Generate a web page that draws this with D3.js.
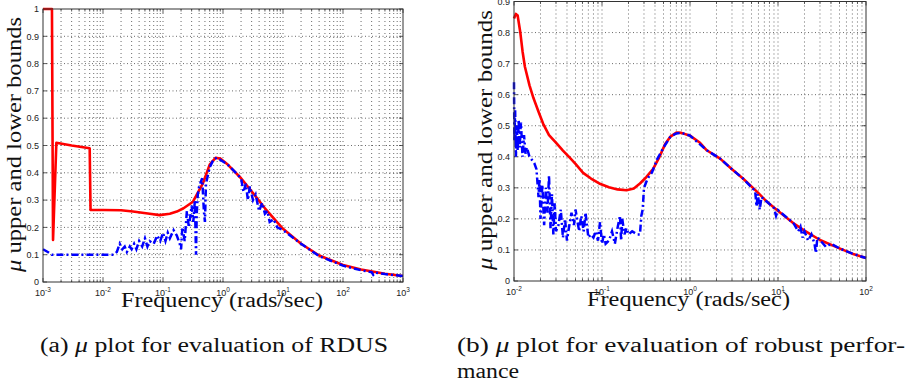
<!DOCTYPE html>
<html>
<head>
<meta charset="utf-8">
<script src="https://cdn.jsdelivr.net/npm/d3@7/dist/d3.min.js"></script>
<style>
  body { margin: 0; background: #fff; }
  svg { display: block; }
  .serif { font-family: "Liberation Serif", "Times New Roman", serif; }
  .sans { font-family: "Liberation Sans", Arial, sans-serif; }
</style>
</head>
<body>
<svg id="chart" width="911" height="384"></svg>
<script>
// ---- Panel (a): mu bounds for RDUS evaluation ----
const aUpperFreq = [0.001, 0.00141, 0.00147, 0.00167, 0.003, 0.006, 0.0062, 0.01, 0.02, 0.0316,
    0.06, 0.088, 0.13, 0.17, 0.22, 0.316, 0.46, 0.6, 0.75, 0.9, 1.2, 2, 3.16, 5, 10, 20, 40, 100, 200, 500, 1000];
const aUpperMu = [1.0, 1.0, 0.154, 0.51, 0.50, 0.49, 0.264, 0.264, 0.263, 0.258,
    0.25, 0.245, 0.25, 0.258, 0.27, 0.294, 0.36, 0.43, 0.455, 0.452, 0.43, 0.38, 0.326, 0.27, 0.195, 0.14, 0.097, 0.062, 0.046, 0.03, 0.022];

const aLowerFreq = [0.001, 0.0012, 0.0014, 0.003, 0.006, 0.01, 0.015, 0.017, 0.019, 0.021, 0.023, 0.025,
    0.028, 0.03, 0.033, 0.036, 0.04, 0.045, 0.05, 0.055, 0.06, 0.07, 0.08, 0.09, 0.1, 0.11, 0.12, 0.13,
    0.15, 0.17, 0.19, 0.2, 0.21, 0.23, 0.25, 0.27, 0.3, 0.32, 0.34, 0.355, 0.365, 0.38, 0.4, 0.45, 0.48,
    0.5, 0.52, 0.6, 0.7, 0.8, 1.2, 2, 2.2, 2.4, 2.6, 2.8, 3.16, 3.5, 4, 4.5, 5, 5.5, 6, 7, 8, 10, 20, 40,
    100, 200, 300, 320, 350, 500, 1000];
const aLowerMu = [0.12, 0.11, 0.10, 0.10, 0.10, 0.10, 0.10, 0.11, 0.14, 0.12, 0.13, 0.11,
    0.13, 0.12, 0.14, 0.12, 0.15, 0.13, 0.16, 0.13, 0.15, 0.14, 0.17, 0.15, 0.18, 0.15, 0.18, 0.16,
    0.19, 0.17, 0.14, 0.12, 0.2, 0.15, 0.26, 0.2, 0.28, 0.22, 0.3, 0.1, 0.25, 0.32, 0.35, 0.38, 0.26,
    0.22, 0.36, 0.42, 0.45, 0.455, 0.43, 0.38, 0.33, 0.36, 0.3, 0.35, 0.3, 0.32, 0.26, 0.29, 0.25, 0.26, 0.22, 0.23, 0.2, 0.19, 0.14, 0.095,
    0.06, 0.043, 0.036, 0.026, 0.034, 0.029, 0.022];

// ---- Panel (b): mu bounds for robust performance ----
const bUpperFreq = [0.0100, 0.0105, 0.011, 0.0118, 0.0125, 0.0133, 0.015, 0.0166, 0.019, 0.0214, 0.025,
    0.0305, 0.036, 0.043, 0.05, 0.061, 0.075, 0.093, 0.12, 0.15, 0.19, 0.23, 0.27, 0.32, 0.38, 0.45,
    0.52, 0.6, 0.7, 0.8, 1.0, 1.3, 1.55, 2.2, 3, 4, 5.8, 7.5, 9.8, 15, 20, 30, 50, 70, 100];
const bUpperMu = [0.845, 0.86, 0.855, 0.80, 0.74, 0.69, 0.63, 0.59, 0.545, 0.507, 0.47,
    0.443, 0.42, 0.397, 0.377, 0.348, 0.33, 0.314, 0.302, 0.295, 0.292, 0.298, 0.314, 0.335, 0.36, 0.40,
    0.44, 0.465, 0.478, 0.477, 0.468, 0.445, 0.421, 0.394, 0.36, 0.33, 0.287, 0.255, 0.228, 0.186, 0.162, 0.132, 0.105, 0.088, 0.074];

const bLowerFreq = [0.0100, 0.0101, 0.0103, 0.0105, 0.0108, 0.011, 0.0113, 0.0116, 0.012, 0.0125, 0.013,
    0.0135, 0.014, 0.015, 0.016, 0.017, 0.018, 0.019, 0.0195, 0.020, 0.021, 0.022, 0.023, 0.024, 0.025,
    0.026, 0.027, 0.028, 0.029, 0.030, 0.032, 0.034, 0.036, 0.038, 0.040, 0.042, 0.045, 0.048, 0.050,
    0.055, 0.058, 0.062, 0.065, 0.070, 0.075, 0.08, 0.085, 0.09, 0.095, 0.10, 0.105, 0.11, 0.12, 0.13,
    0.14, 0.15, 0.16, 0.165, 0.17, 0.18, 0.19, 0.20, 0.22, 0.25, 0.27, 0.28, 0.29, 0.30, 0.33, 0.37, 0.42,
    0.5, 0.6, 0.7, 0.8, 1.0, 1.55, 2.2, 3, 4, 5.5, 5.7, 5.9, 6.2, 6.5, 7.5, 9, 9.5, 10, 15, 17, 18, 19,
    20, 22, 24, 26, 27, 28, 30, 35, 40, 50, 70, 100];
const bLowerMu = [0.64, 0.45, 0.55, 0.40, 0.50, 0.42, 0.52, 0.43, 0.51, 0.40, 0.47,
    0.41, 0.43, 0.40, 0.39, 0.38, 0.36, 0.27, 0.33, 0.20, 0.31, 0.18, 0.30, 0.22, 0.34,
    0.17, 0.28, 0.15, 0.25, 0.16, 0.18, 0.23, 0.14, 0.20, 0.13, 0.17, 0.22, 0.18, 0.23,
    0.16, 0.21, 0.16, 0.22, 0.14, 0.15, 0.14, 0.16, 0.13, 0.19, 0.12, 0.15, 0.12, 0.13, 0.16,
    0.12, 0.17, 0.21, 0.13, 0.20, 0.15, 0.17, 0.15, 0.16, 0.15, 0.15, 0.21, 0.23, 0.30, 0.33, 0.35, 0.39,
    0.43, 0.465, 0.475, 0.477, 0.468, 0.421, 0.394, 0.36, 0.33, 0.29, 0.24, 0.28, 0.23, 0.27, 0.255, 0.235, 0.21, 0.228, 0.186, 0.16, 0.175, 0.14,
    0.16, 0.13, 0.15, 0.12, 0.09, 0.14, 0.132, 0.11, 0.12, 0.105, 0.088, 0.074];

// tick labels
const aYTicks = [0, 0.1, 0.2, 0.3, 0.4, 0.5, 0.6, 0.7, 0.8, 0.9, 1];
const bYTicks = [0, 0.1, 0.2, 0.3, 0.4, 0.5, 0.6, 0.7, 0.8, 0.9];
const aXExponents = [-3, -2, -1, 0, 1, 2, 3];
const bXExponents = [-2, -1, 0, 1, 2];

const xLabel = "Frequency (rads/sec)";
const captionA = ["(a) ", "μ", " plot for evaluation of RDUS"];
const captionB1 = ["(b) ", "μ", " plot for evaluation of robust perfor-"];
const captionB2 = "mance";

const svg = d3.select("#chart");

function zip(xs, ys) { return xs.map((x, i) => [x, ys[i]]); }

function drawPanel(p) {
    const x = d3.scaleLog().domain(p.xDomain).range([p.left, p.right]);
    const y = d3.scaleLinear().domain(p.yDomain).range([p.bottom, p.top]);
    const g = svg.append("g");

    // vertical grid (major + minor decades)
    const vlines = [];
    p.exps.forEach((e, i) => {
        vlines.push({ v: Math.pow(10, e), major: true });
        if (i < p.exps.length - 1) {
            for (let k = 2; k <= 9; k++) vlines.push({ v: k * Math.pow(10, e), major: false });
        }
    });
    g.append("g").selectAll("line").data(vlines.filter(d => d.v > p.xDomain[0] && d.v < p.xDomain[1]))
        .enter().append("line")
        .attr("x1", d => x(d.v)).attr("x2", d => x(d.v))
        .attr("y1", p.top).attr("y2", p.bottom)
        .attr("stroke", "#444").attr("stroke-width", 0.8)
        .attr("stroke-dasharray", "1,3");

    // horizontal grid
    g.append("g").selectAll("line").data(p.yTicks.filter(t => t > p.yDomain[0] && t < p.yDomain[1]))
        .enter().append("line")
        .attr("x1", p.left).attr("x2", p.right)
        .attr("y1", d => y(d)).attr("y2", d => y(d))
        .attr("stroke", "#444").attr("stroke-width", 0.8)
        .attr("stroke-dasharray", "1,2.5");

    // tick marks (inside, all four sides)
    const ticks = g.append("g").attr("stroke", "#333").attr("stroke-width", 0.8);
    vlines.forEach(d => {
        const len = d.major ? 4 : 2.5;
        const xx = x(d.v);
        ticks.append("line").attr("x1", xx).attr("x2", xx).attr("y1", p.bottom).attr("y2", p.bottom - len);
        ticks.append("line").attr("x1", xx).attr("x2", xx).attr("y1", p.top).attr("y2", p.top + len);
    });
    p.yTicks.forEach(t => {
        ticks.append("line").attr("x1", p.left).attr("x2", p.left + 4).attr("y1", y(t)).attr("y2", y(t));
        ticks.append("line").attr("x1", p.right).attr("x2", p.right - 4).attr("y1", y(t)).attr("y2", y(t));
    });

    // lines
    const line = d3.line().x(d => x(d[0])).y(d => y(d[1]));
    g.append("path").datum(zip(p.upF, p.upM))
        .attr("d", line).attr("fill", "none")
        .attr("stroke", "#ff0000").attr("stroke-width", 2.6)
        .attr("stroke-linejoin", "round");
    g.append("path").datum(zip(p.loF, p.loM))
        .attr("d", line).attr("fill", "none")
        .attr("stroke", "#0000ff").attr("stroke-width", 2.5)
        .attr("stroke-dasharray", "7,3,2,3");

    // frame
    g.append("rect").attr("x", p.left).attr("y", p.top)
        .attr("width", p.right - p.left).attr("height", p.bottom - p.top)
        .attr("fill", "none").attr("stroke", "#333").attr("stroke-width", 1);

    // y tick labels
    g.append("g").selectAll("text").data(p.yTicks).enter().append("text")
        .attr("class", "sans")
        .attr("x", p.left - 4).attr("y", d => y(d) + 3.2)
        .attr("text-anchor", "end")
        .attr("font-size", 9).attr("fill", "#222")
        .text(d => String(d));

    // x tick labels 10^n
    const xl = g.append("g").selectAll("text").data(p.exps).enter().append("text")
        .attr("class", "sans")
        .attr("x", d => x(Math.pow(10, d)))
        .attr("y", p.bottom + 14)
        .attr("text-anchor", "middle")
        .attr("font-size", 9).attr("fill", "#222");
    xl.append("tspan").text("10");
    xl.append("tspan").attr("dy", -4).attr("font-size", 6.5).text(d => d);

    // x axis label
    g.append("text").attr("class", "serif")
        .attr("x", (p.xLabelL + p.xLabelR) / 2).attr("y", p.bottom + 25)
        .attr("text-anchor", "middle")
        .attr("font-size", 20).attr("fill", "#111")
        .attr("textLength", p.xLabelR - p.xLabelL).attr("lengthAdjust", "spacingAndGlyphs")
        .text(xLabel);

    // y axis label (rotated)
    const yl = g.append("text").attr("class", "serif")
        .attr("transform", `translate(${p.yLabelX},${(p.yLabelT + p.yLabelB) / 2}) rotate(-90)`)
        .attr("text-anchor", "middle")
        .attr("font-size", 20).attr("fill", "#111")
        .attr("textLength", p.yLabelB - p.yLabelT).attr("lengthAdjust", "spacingAndGlyphs");
    yl.append("tspan").attr("font-style", "italic").text("μ");
    yl.append("tspan").text(" upper and lower bounds");
}

drawPanel({
    left: 43, right: 403, top: 9, bottom: 282,
    xDomain: [1e-3, 1e3], yDomain: [0, 1],
    exps: aXExponents, yTicks: aYTicks,
    upF: aUpperFreq, upM: aUpperMu, loF: aLowerFreq, loM: aLowerMu,
    xLabelL: 121, xLabelR: 323, yLabelX: 21, yLabelT: 17, yLabelB: 272
});
drawPanel({
    left: 514, right: 866, top: 1.5, bottom: 281,
    xDomain: [1e-2, 1e2], yDomain: [0, 0.9],
    exps: bXExponents, yTicks: bYTicks,
    upF: bUpperFreq, upM: bUpperMu, loF: bLowerFreq, loM: bLowerMu,
    xLabelL: 587, xLabelR: 790, yLabelX: 492, yLabelT: 10, yLabelB: 270
});

// captions
function caption(parts, x0, x1, yb) {
    const t = svg.append("text").attr("class", "serif").attr("x", x0).attr("y", yb)
        .attr("font-size", 20).attr("fill", "#111")
        .attr("textLength", x1 - x0).attr("lengthAdjust", "spacingAndGlyphs");
    parts.forEach((s, i) => t.append("tspan").attr("font-style", i === 1 ? "italic" : null).text(s));
}
caption(captionA, 40, 388, 352);
caption(captionB1, 457, 905, 352);
svg.append("text").attr("class", "serif").attr("x", 457).attr("y", 378)
    .attr("font-size", 20).attr("fill", "#111")
    .attr("textLength", 62).attr("lengthAdjust", "spacingAndGlyphs")
    .text(captionB2);
</script>
</body>
</html>
